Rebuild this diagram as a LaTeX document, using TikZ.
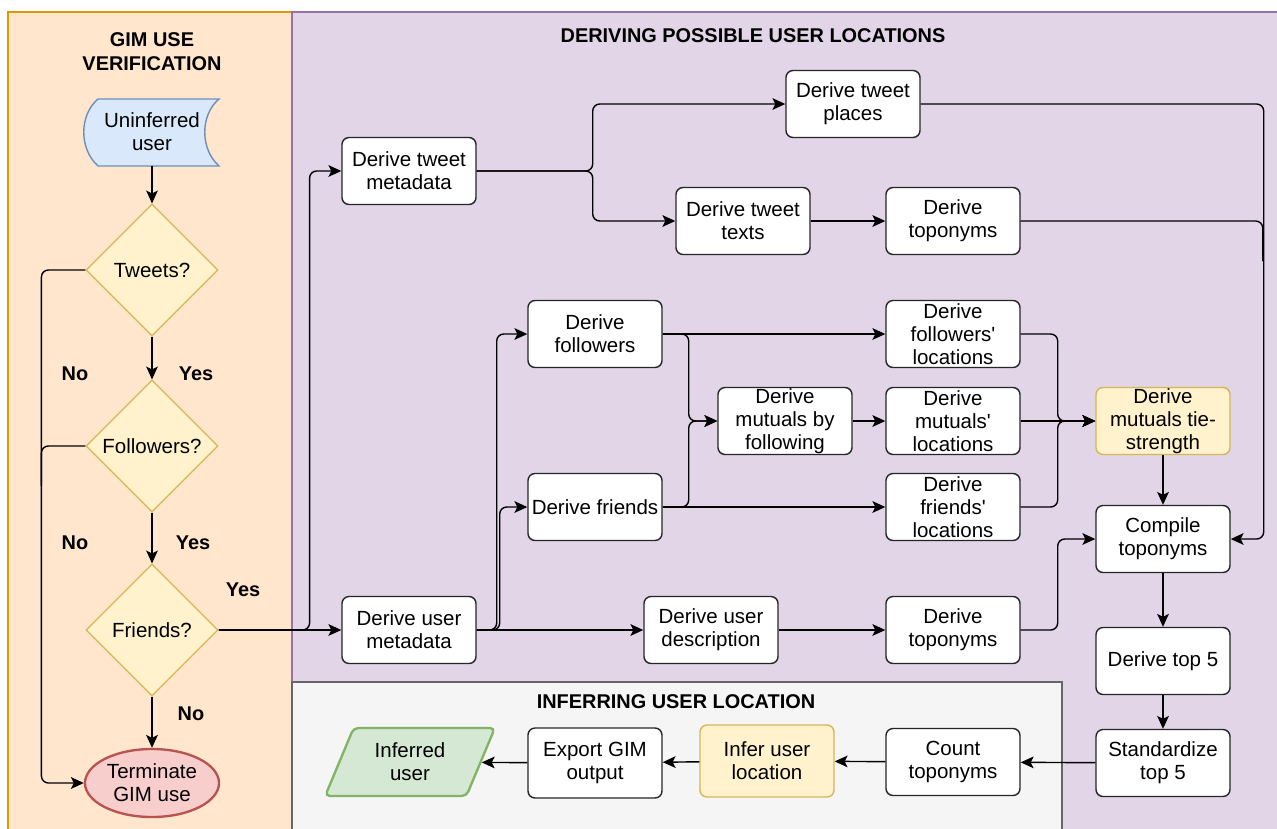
\documentclass[tikz,border=0pt]{standalone}
\usepackage{fontspec}
\setmainfont{Liberation Sans}
\usetikzlibrary{shapes.geometric,arrows.meta}
\definecolor{orfill}{HTML}{FFE6CC}
\definecolor{ordraw}{HTML}{D79B00}
\definecolor{purfill}{HTML}{E1D5E7}
\definecolor{purdraw}{HTML}{9673A6}
\definecolor{gryfill}{HTML}{F5F5F5}
\definecolor{grydraw}{HTML}{666666}
\definecolor{blufill}{HTML}{DAE8FC}
\definecolor{bludraw}{HTML}{6C8EBF}
\definecolor{yelfill}{HTML}{FFF2CC}
\definecolor{yeldraw}{HTML}{D6B656}
\definecolor{redfill}{HTML}{F8CECC}
\definecolor{reddraw}{HTML}{B85450}
\definecolor{grnfill}{HTML}{D5E8D4}
\definecolor{grndraw}{HTML}{82B366}
\newcommand\boxfont{\fontsize{17.5}{19.8}\selectfont}
\newcommand\headfont{\fontsize{17}{20.5}\selectfont\bfseries}
\tikzset{
    box/.style={draw=black!85, fill=white, rounded corners=6pt, line width=1.2pt,
        minimum width=4.02cm, minimum height=2.01cm, inner sep=0pt, align=center, font=\boxfont},
    ybox/.style={box, fill=yelfill, draw=yeldraw},
    decide/.style={diamond, aspect=1, draw=yeldraw, fill=yelfill, line width=1pt,
        minimum width=3.96cm, minimum height=3.96cm, inner sep=0pt, font=\boxfont},
    lbl/.style={font=\headfont},
    head/.style={font=\headfont, align=center},
    arr/.style={-{Stealth[length=11pt,width=10pt,inset=2.5pt]}, line width=1.2pt, rounded corners=6pt},
    ln/.style={line width=1.2pt, rounded corners=6pt}
}
\begin{document}
\begin{tikzpicture}[x=0.03cm, y=-0.03cm]
    \clip (0,0) rectangle (1277,828);
    \draw[fill=orfill, draw=ordraw, line width=1pt] (8,12) rectangle (292,840);
    \draw[fill=purfill, draw=purdraw, line width=1pt] (292,12) rectangle (1290,840);
    \draw[fill=gryfill, draw=grydraw, line width=1pt] (292,682) rectangle (1062,840);
    \node[head] (gimhead) at (152,52) {GIM USE\\VERIFICATION};
    \node[head] (derhead) at (753,36) {DERIVING POSSIBLE USER LOCATIONS};
    \node[head] (infhead) at (676,702) {INFERRING USER LOCATION};
    \draw[fill=blufill, draw=bludraw, line width=1.2pt] (98,99) -- (219,99)
        .. controls (200,115) and (200,149) .. (219,166) -- (98,166)
        .. controls (79,149) and (79,115) .. (98,99) -- cycle;
    \node[font=\boxfont, align=center, minimum width=4.02cm, minimum height=2.01cm, inner sep=0pt] (unin) at (152,132) {Uninferred\\user};
    \node[decide] (tweets) at (152,270) {Tweets?};
    \node[decide] (followq) at (152,446) {Followers?};
    \node[decide] (friendq) at (152,630) {Friends?};
    \node[ellipse, draw=reddraw, fill=redfill, line width=2pt, minimum width=4.02cm, minimum height=2.04cm,
        inner sep=0pt, align=center, font=\boxfont] (term) at (152,783) {Terminate\\GIM use};
    \node[lbl] (no1) at (75,374) {No};
    \node[lbl] (yes1) at (196,374) {Yes};
    \node[lbl] (no2) at (75,543) {No};
    \node[lbl] (yes2) at (193,543) {Yes};
    \node[lbl] (yes3) at (243,590) {Yes};
    \node[lbl] (no3) at (191,714) {No};
    \node[box] (tmeta) at (409,171) {Derive tweet\\metadata};
    \node[box] (umeta) at (409,630) {Derive user\\metadata};
    \node[box] (tplaces) at (853,104) {Derive tweet\\places};
    \node[box] (ttexts) at (743,221) {Derive tweet\\texts};
    \node[box] (ttopo) at (953,221) {Derive\\toponyms};
    \node[box] (flw) at (595,334) {Derive\\followers};
    \node[box] (frd) at (595,507) {Derive friends};
    \node[box] (mut) at (785,421) {Derive\\mutuals by\\following};
    \node[box] (flwloc) at (953,334) {Derive\\followers\textquotesingle\\locations};
    \node[box] (mutloc) at (953,421) {Derive\\mutuals\textquotesingle\\locations};
    \node[box] (frdloc) at (953,507) {Derive\\friends\textquotesingle\\locations};
    \node[ybox] (tie) at (1163,421) {Derive\\mutuals tie-\\strength};
    \node[box] (compile) at (1163,539) {Compile\\toponyms};
    \node[box] (udesc) at (711,630) {Derive user\\description};
    \node[box] (dtopo) at (953,630) {Derive\\toponyms};
    \node[box] (top5) at (1163,661) {Derive top 5};
    \node[box] (stdtop) at (1163,763) {Standardize\\top 5};
    \node[box] (count) at (953,762) {Count\\toponyms};
    \node[ybox, minimum height=2.16cm] (infer) at (767,761) {Infer user\\location};
    \node[box, minimum height=2.1cm] (export) at (595,763) {Export GIM\\output};
    \node[trapezium, trapezium left angle=65, trapezium right angle=115, trapezium stretches=true,
        draw=grndraw, fill=grnfill, line width=2pt, rounded corners=4pt, minimum width=5.1cm,
        minimum height=2.04cm, inner sep=0pt, align=center, font=\boxfont] (inferred) at (410,762) {Inferred\\user};
    \draw[arr] (unin) -- (tweets);
    \draw[arr] (tweets) -- (followq);
    \draw[arr] (followq) -- (friendq);
    \draw[arr] (friendq) -- (term);
    \draw[arr] (tweets.west) -- ++(-44,0) |- (term.west);
    \draw[ln] (followq.west) -- ++(-44,0) -- ++(0,40);
    \draw[arr] (friendq.east) -- (umeta.west);
    \draw[arr] (friendq.east) -- ++(91,0) |- (tmeta.west);
    \draw[arr] (tmeta.east) -- ++(116,0) |- (tplaces.west);
    \draw[arr] (tmeta.east) -- ++(116,0) |- (ttexts.west);
    \draw[arr] (ttexts) -- (ttopo);
    \draw[arr] (tplaces.east) -- ++(343,0) |- (compile.east);
    \draw[ln] (ttopo.east) -- ++(242,0) -- ++(0,40);
    \draw[arr] (umeta.east) -- ++(20,0) |- (flw.west);
    \draw[arr] (umeta.east) -- ++(23,0) |- (frd.west);
    \draw[arr] (umeta) -- (udesc);
    \draw[arr] (udesc) -- (dtopo);
    \draw[arr] (dtopo.east) -- ++(37,0) |- (compile.west);
    \draw[arr] (flw) -- (flwloc);
    \draw[arr] (flw.east) -- ++(26,0) |- (mut.west);
    \draw[arr] (frd) -- (frdloc);
    \draw[arr] (frd.east) -- ++(26,0) |- (mut.west);
    \draw[arr] (mut) -- (mutloc);
    \draw[arr] (mutloc) -- (tie);
    \draw[arr] (flwloc.east) -- ++(37,0) |- (tie.west);
    \draw[arr] (frdloc.east) -- ++(37,0) |- (tie.west);
    \draw[arr] (tie) -- (compile);
    \draw[arr] (compile) -- (top5);
    \draw[arr] (top5) -- (stdtop);
    \draw[arr] (stdtop) -- (count);
    \draw[arr] (count) -- (infer);
    \draw[arr] (infer) -- (export);
    \draw[arr] (export) -- (inferred);
\end{tikzpicture}
\end{document}
